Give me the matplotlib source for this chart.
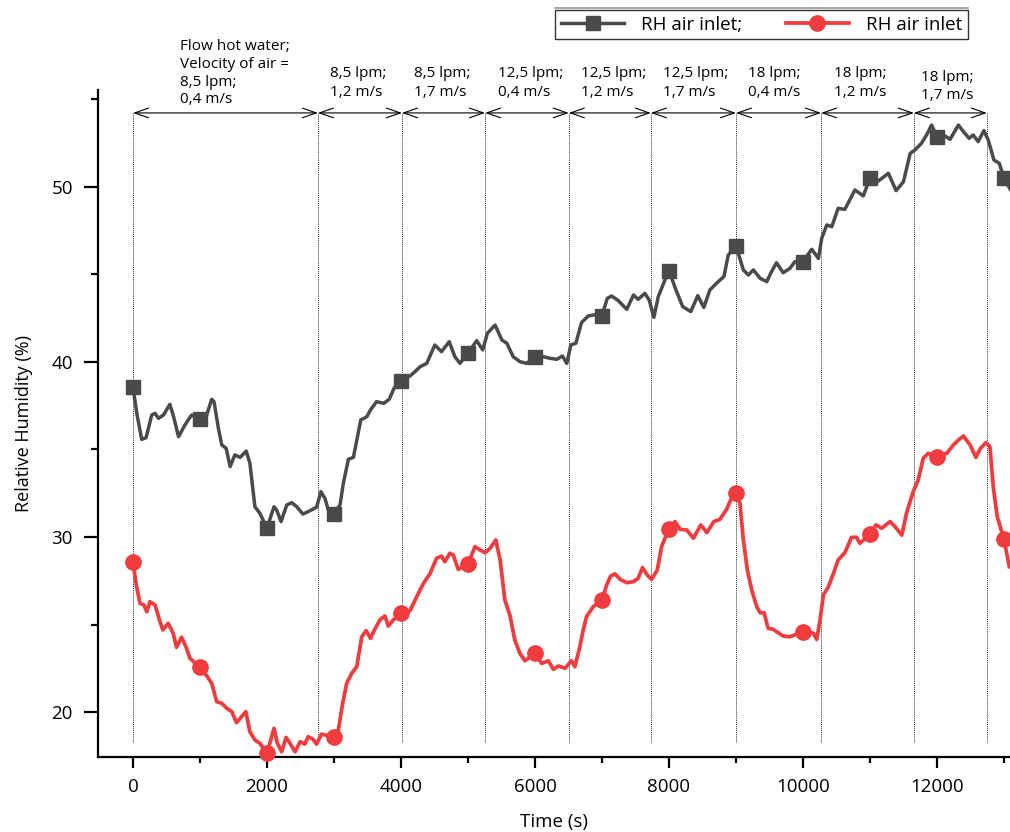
import numpy as np
import matplotlib
matplotlib.use("Agg")
import matplotlib.pyplot as plt
from matplotlib.lines import Line2D
from matplotlib.ticker import MultipleLocator

plt.rcParams['font.family'] = ['Open Sans', 'DejaVu Sans']

# ---------------- data ----------------
t_dark = [0, 60, 130, 195, 280, 330, 380, 455, 550, 600, 680, 775, 875, 1000, 1100, 1175, 1210,
          1275, 1325, 1390, 1450, 1520, 1600, 1690, 1745, 1820, 1895, 2000, 2105, 2145, 2210, 2295,
          2370, 2445, 2535, 2615, 2740, 2805, 2865, 2915, 3000, 3090, 3140, 3215, 3290, 3350, 3400,
          3490, 3545, 3635, 3745, 3825, 3895, 4000, 4135, 4235, 4285, 4385, 4505, 4605, 4720, 4805,
          4880, 5000, 5130, 5220, 5290, 5405, 5505, 5580, 5675, 5775, 5875, 6000, 6125, 6225, 6325,
          6410, 6475, 6535, 6610, 6695, 6795, 6900, 7000, 7080, 7145, 7245, 7370, 7470, 7540, 7640,
          7705, 7775, 7840, 7940, 8000, 8105, 8205, 8325, 8430, 8520, 8610, 8710, 8820, 8885, 9000,
          9110, 9185, 9260, 9360, 9460, 9530, 9605, 9705, 9805, 9880, 10000, 10130, 10230, 10280,
          10355, 10430, 10525, 10625, 10775, 10900, 11000, 11125, 11275, 11390, 11500, 11600, 11670,
          11770, 11845, 11920, 11965, 12000, 12095, 12195, 12320, 12395, 12480, 12540, 12615, 12700,
          12765, 12850, 12930, 13000, 13100]
rh_dark = [38.55, 37.0, 35.58, 35.67, 36.97, 37.07, 36.78, 36.97, 37.58, 36.97, 35.73, 36.4, 36.97,
           36.73, 36.97, 37.87, 37.73, 36.21, 35.26, 35.07, 34.02, 34.69, 34.55, 34.91, 34.21, 31.73,
           31.35, 30.50, 31.73, 31.54, 30.88, 31.83, 31.96, 31.73, 31.31, 31.45, 31.70, 32.59, 32.21,
           31.54, 31.31, 31.83, 33.07, 34.44, 34.55, 35.73, 36.69, 36.87, 37.26, 37.73, 37.64, 37.87,
           38.49, 38.93, 39.20, 39.54, 39.73, 39.92, 40.97, 40.59, 41.16, 40.30, 39.92, 40.50, 41.22,
           40.69, 41.64, 42.11, 41.26, 41.07, 40.30, 40.02, 39.92, 40.30, 40.30, 40.21, 40.15, 40.34,
           39.92, 40.97, 41.07, 42.25, 42.63, 42.70, 42.65, 43.64, 43.77, 43.50, 43.01, 43.83, 43.58,
           43.92, 43.54, 42.55, 43.73, 44.69, 45.22, 44.11, 43.16, 42.88, 43.79, 43.12, 44.11, 44.50,
           44.88, 46.11, 46.65, 45.26, 44.97, 45.26, 44.78, 44.59, 45.16, 45.67, 45.10, 45.35, 45.73,
           45.73, 46.44, 45.92, 47.07, 47.83, 47.73, 48.78, 48.72, 49.83, 49.49, 50.50, 50.34, 50.78,
           49.79, 50.30, 51.92, 52.11, 52.50, 52.97, 53.54, 53.16, 52.87, 52.97, 52.72, 53.54, 53.16,
           52.78, 52.97, 52.59, 53.22, 52.69, 51.54, 51.35, 50.50, 49.83]

t_red = [0, 45, 105, 165, 205, 255, 330, 395, 445, 525, 600, 650, 725, 790, 850, 1000, 1110, 1175,
         1250, 1325, 1400, 1475, 1545, 1620, 1685, 1745, 1820, 1895, 2000, 2055, 2105, 2155, 2220,
         2285, 2345, 2420, 2495, 2565, 2615, 2690, 2740, 2815, 3000, 3065, 3130, 3190, 3265, 3340,
         3415, 3480, 3545, 3610, 3685, 3760, 3810, 3885, 4000, 4135, 4235, 4335, 4435, 4530, 4605,
         4655, 4730, 4780, 4855, 5000, 5105, 5180, 5255, 5330, 5415, 5480, 5550, 5625, 5700, 5775,
         5850, 6000, 6100, 6200, 6275, 6350, 6450, 6545, 6595, 6670, 6720, 6770, 6870, 7000, 7070,
         7130, 7195, 7270, 7370, 7470, 7540, 7605, 7675, 7740, 7825, 7890, 7940, 8000, 8090, 8165,
         8265, 8365, 8475, 8565, 8670, 8760, 8860, 8920, 9000, 9060, 9110, 9170, 9235, 9310, 9360,
         9420, 9480, 9555, 9630, 9705, 9805, 10000, 10155, 10205, 10255, 10305, 10380, 10455, 10525,
         10625, 10725, 10800, 10850, 11000, 11090, 11175, 11300, 11375, 11475, 11545, 11645, 11720,
         11795, 11870, 12000, 12145, 12245, 12320, 12395, 12495, 12580, 12650, 12730, 12790, 12840,
         12900, 13000, 13080]
rh_red = [28.55, 27.35, 26.21, 26.11, 25.73, 26.30, 26.11, 25.26, 24.69, 25.07, 24.50, 23.70, 24.27,
          23.73, 23.07, 22.55, 22.02, 21.64, 20.59, 20.50, 20.21, 20.02, 19.39, 19.73, 20.02, 18.87,
          18.40, 18.21, 17.64, 18.40, 19.07, 18.21, 17.73, 18.55, 18.21, 17.73, 18.30, 18.17, 18.59,
          18.44, 18.17, 18.74, 18.55, 18.97, 20.50, 21.64, 22.21, 22.59, 24.30, 24.65, 24.21, 24.73,
          25.26, 25.49, 24.91, 25.26, 25.64, 25.79, 26.59, 27.35, 27.92, 28.78, 28.91, 28.59, 29.07,
          28.97, 28.15, 28.46, 29.45, 29.26, 29.10, 29.35, 29.83, 28.69, 26.40, 25.54, 24.11, 23.35,
          22.93, 23.35, 22.78, 22.93, 22.44, 22.63, 22.50, 22.93, 22.59, 23.73, 24.69, 25.45, 26.02,
          26.40, 27.26, 27.77, 27.89, 27.58, 27.39, 27.45, 27.64, 28.25, 27.83, 27.58, 28.11, 29.45,
          29.93, 30.44, 30.88, 30.44, 30.40, 29.93, 30.69, 30.25, 30.88, 31.01, 31.58, 32.11, 32.53,
          31.92, 29.83, 28.11, 26.97, 26.02, 25.67, 25.67, 24.78, 24.73, 24.53, 24.34, 24.30, 24.59,
          24.50, 24.15, 25.26, 26.69, 27.16, 27.92, 28.69, 29.10, 29.98, 29.98, 29.64, 30.17, 30.69,
          30.50, 30.88, 30.59, 30.11, 31.35, 32.59, 33.26, 34.50, 34.78, 34.59, 34.78, 35.26, 35.54,
          35.77, 35.26, 34.55, 35.07, 35.39, 35.16, 32.87, 31.16, 29.87, 28.30]

# condition change times (s) and labels for each interval
seg_bounds = [0, 2760, 4015, 5255, 6505, 7730, 9000, 10270, 11655, 12745]
seg_labels = ["Flow hot water;\nVelocity of air =\n8,5 lpm;\n0,4 m/s",
              "8,5 lpm;\n1,2 m/s", "8,5 lpm;\n1,7 m/s", "12,5 lpm;\n0,4 m/s",
              "12,5 lpm;\n1,2 m/s", "12,5 lpm;\n1,7 m/s", "18 lpm;\n0,4 m/s",
              "18 lpm;\n1,2 m/s", "18 lpm;\n1,7 m/s"]

legend_labels = ["RH air inlet;", "RH air inlet"]
x_label = "Time (s)"
y_label = "Relative Humidity (%)"

# ---------------- figure ----------------
W, H = 1010, 832
fig = plt.figure(figsize=(W / 100, H / 100), dpi=100)
ax = fig.add_axes([98 / W, 75 / H, (W - 98) / W, 667 / H])

dark_c = '#4a4a4a'
red_c = '#f03c3e'

t_dark_a = np.array(t_dark)
t_red_a = np.array(t_red)
mk_dark = list(np.flatnonzero(t_dark_a % 1000 == 0))
mk_red = list(np.flatnonzero(t_red_a % 1000 == 0))

y_arrow = 54.23
y_vbot = 18.29

for b in seg_bounds:
    ax.plot([b, b], [y_vbot, y_arrow], color='#333333', lw=0.7, ls=(0, (1, 1)), zorder=1,
            clip_on=False)

for i in range(len(seg_bounds) - 1):
    ax.annotate('', xy=(seg_bounds[i + 1], y_arrow), xytext=(seg_bounds[i], y_arrow),
                arrowprops=dict(arrowstyle='<->,head_length=1.0,head_width=0.35', lw=0.8,
                                color='black', shrinkA=0, shrinkB=0),
                annotation_clip=False)

for i, lab in enumerate(seg_labels):
    x0 = seg_bounds[i]
    if i == 0:
        off = (34, 4)
        ls = 1.25
    elif i < 8:
        off = (9, 9)
        ls = 1.4
    else:
        off = (5, 7)
        ls = 1.3
    ax.annotate(lab, xy=(x0, y_arrow), xytext=off, textcoords='offset points',
                ha='left', va='bottom', fontsize=11, linespacing=ls,
                annotation_clip=False)

l1, = ax.plot(t_dark, rh_dark, color=dark_c, lw=2.5, marker='s', markersize=10,
              markevery=mk_dark, zorder=3, clip_on=False, solid_joinstyle='round')
l2, = ax.plot(t_red, rh_red, color=red_c, lw=2.7, marker='o', markersize=11,
              markevery=mk_red, zorder=3, clip_on=False, solid_joinstyle='round')

ax.set_xlim(-522, 13090)
ax.set_ylim(17.43, 55.54)

ax.xaxis.set_major_locator(MultipleLocator(2000))
ax.xaxis.set_minor_locator(MultipleLocator(1000))
ax.yaxis.set_major_locator(MultipleLocator(10))
ax.yaxis.set_minor_locator(MultipleLocator(5))

for s in ['top', 'right']:
    ax.spines[s].set_visible(False)
for s in ['left', 'bottom']:
    ax.spines[s].set_linewidth(1.6)

ax.tick_params(axis='x', which='major', direction='out', length=8, width=1.6, pad=7,
               labelsize=13.5)
ax.tick_params(axis='x', which='minor', direction='out', length=4, width=1.6)
ax.tick_params(axis='y', which='major', direction='out', length=10, width=1.6, pad=8,
               labelsize=13.5)
ax.tick_params(axis='y', which='minor', direction='out', length=5, width=1.6)

ax.set_xlabel(x_label, fontsize=13.5, labelpad=12)
ax.set_ylabel(y_label, fontsize=13, labelpad=13)

leg = fig.legend([l1, l2], legend_labels, loc='upper right',
                 bbox_to_anchor=(968 / W, 1 - 10 / H), ncol=2, fontsize=13.5,
                 frameon=True, fancybox=False, edgecolor='black', handlelength=3.4,
                 numpoints=1, columnspacing=2.3, handletextpad=0.9, borderpad=0.3,
                 borderaxespad=0)
leg.get_frame().set_linewidth(1.0)
fig.canvas.draw()
bb = leg.get_window_extent()
fig.add_artist(Line2D([bb.x0 / W, bb.x1 / W], [1 - 8 / H, 1 - 8 / H], color='#999999', lw=1.2))

fig.savefig('out.png', dpi=100)
